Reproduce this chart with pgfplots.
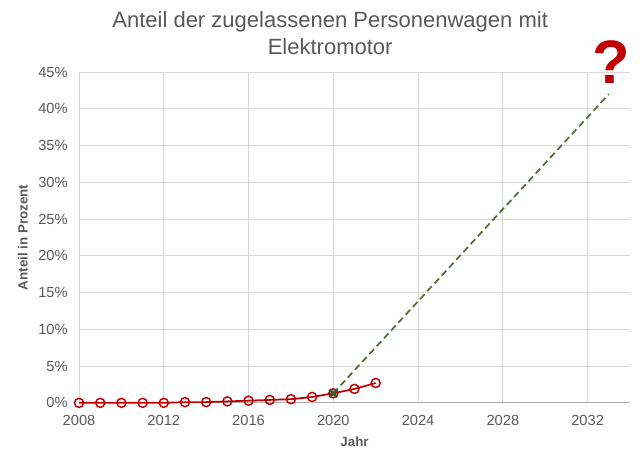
\documentclass[border=0pt]{standalone}
\usepackage{fontspec}
\setmainfont{Liberation Sans}
\usepackage{pgfplots}
\usetikzlibrary{calc}
\pgfplotsset{compat=1.18}
\definecolor{rd}{RGB}{192,0,0}
\definecolor{gn}{RGB}{79,110,50}
\definecolor{tx}{RGB}{89,89,89}
\definecolor{gr}{RGB}{217,217,217}
\begin{document}
\begin{tikzpicture}
\begin{axis}[
  scale only axis, width=413pt, height=248pt,
  xmin=2008, xmax=2034, ymin=0, ymax=45,
  xtick={2008,2012,...,2032}, ytick={0,5,...,45},
  xticklabel style={/pgf/number format/1000 sep={}, yshift=-6pt},
  yticklabel style={xshift=-5pt},
  yticklabel={\pgfmathprintnumber{\tick}\%},
  /pgf/number format/assume math mode=true,
  tick label style={font=\fontsize{11}{13}\selectfont, text=tx},
  grid=major, major grid style={gr, line width=0.75pt},
  axis line style={draw=none},
  axis x line*=bottom, axis y line*=left,
  major tick length=0pt,
  xlabel={\textbf{Jahr}}, ylabel={\textbf{Anteil in Prozent}},
  label style={font=\fontsize{10}{12}\selectfont, text=tx},
  xlabel style={yshift=-1.5pt},
  ylabel style={yshift=1pt},
  clip=false,
]
\draw[gr!80!black, line width=0.75pt] (rel axis cs:0,0) -- (rel axis cs:1,0);
\addplot[rd, line width=1.3pt, mark=o, mark size=3.4pt, mark options={solid, line width=1.1pt}] coordinates {
(2008,0) (2009,0) (2010,0) (2011,0) (2012,0) (2013,0.1) (2014,0.1) (2015,0.2) (2016,0.3) (2017,0.4) (2018,0.5) (2019,0.8) (2020,1.3) (2021,1.9) (2022,2.7)};
\addplot[gn, line width=1.3pt, dashed, dash pattern=on 5pt off 3pt] coordinates {(2020,1.3) (2033,42)};
\addplot[gn!80!black, only marks, mark=x, mark size=4pt, mark options={line width=2pt}] coordinates {(2020,1.3)};
\node[text=rd, font=\bfseries\fontsize{46}{46}\selectfont] at (axis cs:2033.1,46.3) {?};
\coordinate (ll) at (rel axis cs:0,0);
\coordinate (ur) at (rel axis cs:1,1);
\end{axis}
\node[text=tx, align=center, font=\fontsize{16.5}{20}\selectfont] at ($(ll)+(188.25pt,277.25pt)$) {Anteil der zugelassenen Personenwagen mit\\Elektromotor};
\pgfresetboundingbox
\path[use as bounding box] ($(ll)+(-59.25pt,-36pt)$) rectangle ($(ur)+(7.5pt,54pt)$);
\end{tikzpicture}
\end{document}
